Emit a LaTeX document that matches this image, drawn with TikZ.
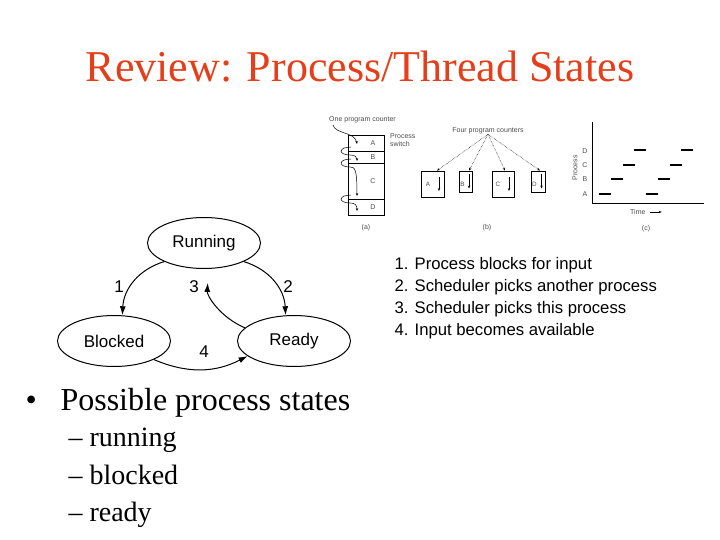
\documentclass[tikz,border=0pt]{standalone}
\usepackage{fontspec}
\setmainfont{Liberation Serif}
\setsansfont{Liberation Sans}
\usetikzlibrary{arrows.meta,positioning,shapes.geometric}
\definecolor{titlered}{RGB}{228,62,26}
\definecolor{figgray}{gray}{0.3}

\begin{document}
\begin{tikzpicture}[
  x=1pt,y=-1pt,
  state/.style={draw,ellipse,line width=1pt,minimum width=113pt,minimum height=51pt,font=\sffamily\fontsize{17}{20}\selectfont},
  num/.style={font=\sffamily\fontsize{17}{20}\selectfont},
  arr/.style={-{Latex[length=9pt,width=6pt]},line width=1pt},
  legend/.style={anchor=base west,font=\sffamily\fontsize{16.7}{20}\selectfont},
  small/.style={font=\sffamily\fontsize{7}{8}\selectfont,text=figgray,inner sep=0pt},
  tiny/.style={small,font=\sffamily\fontsize{6.3}{7}\selectfont},
  pbox/.style={draw,line width=0.8pt,inner sep=0pt},
  pc/.style={-{Stealth[length=3pt,width=2.4pt]},line width=0.5pt},
  pcdot/.style={pc,densely dotted},
  bigtext/.style={anchor=base west,font=\fontsize{32}{36}\selectfont},
  subtext/.style={anchor=base west,font=\fontsize{28}{32}\selectfont}
]
  \useasboundingbox (0,0) rectangle (720,540);

  % title
  \node[font=\fontsize{44}{50}\selectfont,text=titlered,anchor=base] (title) at (360,82) {Review: Process/Thread States};

  % state diagram
  \node[state] (run) at (204,243) {Running};
  \node[state] (blk) at (114,341) {Blocked};
  \node[state] (rdy) at (294,341) {Ready};

  \draw[arr] (run.205) to[bend right=35] (blk.72);
  \draw[arr] (run.335) to[bend left=35] (rdy.108);
  \draw[arr,shorten >=14pt] (rdy.165) to[bend left=35] (run.280);
  \draw[arr] (blk.335) to[bend right=25] (rdy.198);

  \node[num] (n1) at (119,287) {1};
  \node[num] (n3) at (194,287) {3};
  \node[num] (n2) at (288,287) {2};
  \node[num] (n4) at (204,352) {4};

  % transitions
  \foreach \i/\t [count=\k] in {1/Process blocks for input,2/Scheduler picks another process,3/Scheduler picks this process,4/Input becomes available}
    \node[legend] (leg\k) at (391,{263+6+(\k-1)*22}) {\i. \t};

  % (a) one program counter
  \node[small,anchor=base west] (onepc) at (329,122) {One program counter};
  \node[small,anchor=west,align=left] (psw) at (390,140) {Process\\switch};
  \draw[pbox] (348,135) rectangle (384,215);
  \foreach \y in {151,163,199} \draw[line width=0.8pt] (348,\y) -- (384,\y);
  \foreach \l/\y in {A/143,B/157,C/181,D/207} \node[small] (a\l) at (373,\y) {\l};
  \draw[pc] (333,125) .. controls (335,134) and (355,132) .. (357,144);
  \foreach \yb/\ye in {151/161,163/196,199/211}
    \draw[pc] (351,\yb-4) .. controls (338,\yb-4) and (338,\yb+4) .. (350,\yb+4) .. controls (355,\yb+4) and (357,\yb+6) .. (357,\ye);
  \node[small] (capa) at (366,228) {(a)};

  % (b) four program counters
  \node[small] (fourpc) at (488,131) {Four program counters};
  \node[pbox,minimum width=23pt,minimum height=26pt] (bA) at (433,184) {};
  \node[pbox,minimum width=13pt,minimum height=21pt] (bB) at (466,181.5) {};
  \node[pbox,minimum width=22pt,minimum height=26pt] (bC) at (503,184) {};
  \node[pbox,minimum width=14pt,minimum height=21pt] (bD) at (538.5,181.5) {};
  \foreach \b/\dx in {A/4,B/3,C/2,D/1.5} {
    \draw[pcdot] (fourpc.south) -- ([xshift=\dx pt]b\b.north);
  }
  \foreach \b/\lx/\ax in {A/428/439,B/462.5/469,C/498/509,D/534.5/541.5} {
    \node[tiny] (t\b) at (\lx,{184}) {\b};
    \draw[pc] ([yshift=7pt]b\b.center -| \ax,0) -- ([yshift=-7pt]b\b.center -| \ax,0);
  }
  \node[small] (capb) at (487,228) {(b)};

  % (c) timeline
  \draw[line width=0.6pt] (592,122) -- (592,203) -- (704,203);
  \foreach \l/\y in {D/151,C/165,B/179,A/194} \node[small] (c\l) at (585,\y) {\l};
  \foreach \y/\xa/\xb in {194/599/646,179/611/658,165/623/670,150/634/681}
    \draw[line width=1.1pt] (\xa,\y) -- ++(12,0) (\xb,\y) -- ++(12,0);
  \node[small,rotate=90] (cproc) at (575,168) {Process};
  \node[small,anchor=west] (ctime) at (630,212) {Time};
  \draw[pc] ([xshift=4pt]ctime.east) -- ++(12,0);
  \node[small] (capc) at (646,229) {(c)};

  % bullet list
  \node[bigtext] (dot) at (22,410) {\textbullet};
  \node[bigtext] (states) at (57,410) {Possible process states};
  \foreach \t/\y in {running/446,blocked/484,ready/521}
    \node[subtext] (s\t) at (65,\y) {– \t};
\end{tikzpicture}
\end{document}
